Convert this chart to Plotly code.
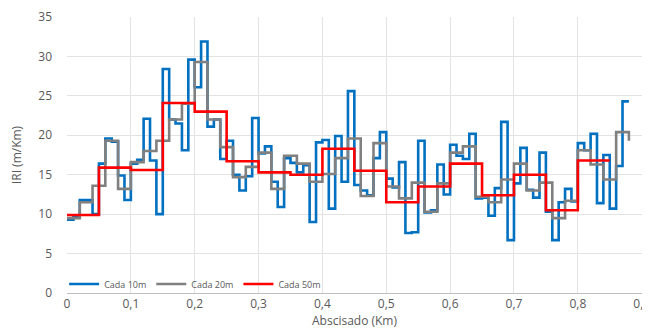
import plotly.graph_objects as go

# Abscissa (Km) at the start of each interval; last entry closes the final step
abs_10m = [round(i * 0.01, 2) for i in range(89)]
abs_20m = [round(i * 0.02, 2) for i in range(45)]
abs_50m = [round(i * 0.05, 2) for i in range(18)]

iri_10m = [9.3, 9.7, 11.8, 11.8, 10.0, 16.4, 19.6, 19.2, 14.9, 11.8,
           16.4, 16.9, 22.1, 16.8, 10.0, 28.4, 22.0, 21.5, 18.1, 29.6,
           26.1, 31.9, 21.1, 22.0, 17.0, 19.3, 15.0, 13.0, 14.8, 22.2,
           17.7, 18.6, 14.1, 10.9, 17.1, 16.5, 15.3, 16.2, 9.0, 19.1,
           19.4, 10.7, 19.9, 14.1, 25.6, 13.7, 13.0, 12.4, 17.1, 20.4,
           14.5, 13.4, 16.6, 7.6, 7.7, 19.3, 10.2, 10.5, 16.3, 12.5,
           18.8, 17.4, 17.0, 20.2, 12.0, 12.1, 9.8, 13.3, 21.7, 6.7,
           13.9, 18.4, 13.1, 12.1, 17.8, 10.3, 6.7, 11.5, 13.2, 11.6,
           19.0, 18.1, 20.2, 11.4, 17.5, 10.7, 16.1, 24.3, 24.3]

iri_20m = [9.5, 11.5, 13.6, 19.3, 13.2, 16.6, 18.0, 19.3, 22.0, 24.0,
           29.3, 22.0, 18.5, 14.7, 16.0, 17.8, 13.2, 17.4, 16.4, 14.1,
           15.1, 17.1, 19.6, 12.3, 19.0, 13.5, 12.0, 14.0, 10.3, 13.9,
           17.8, 18.6, 12.2, 11.5, 14.4, 16.4, 13.0, 14.0, 9.5, 11.7,
           18.1, 16.3, 14.4, 20.4, 19.3]

iri_50m = [9.9, 15.9, 15.6, 24.1, 23.0, 16.7, 15.3, 15.0, 18.3, 15.5,
           11.5, 13.5, 16.4, 12.4, 15.0, 10.5, 16.8, 16.8]

series = [
    ("Cada 10m", abs_10m, iri_10m, "#0070C0"),
    ("Cada 20m", abs_20m, iri_20m, "#808080"),
    ("Cada 50m", abs_50m, iri_50m, "#FF0000"),
]

fig = go.Figure()
for name, xs, ys, color in series:
    fig.add_trace(go.Scatter(
        x=xs, y=ys, name=name, mode="lines",
        line=dict(color=color, width=2.6, shape="hv"),
    ))

tick_font = dict(family="Open Sans, Liberation Sans, sans-serif", size=12, color="#595959")

# The page body has an 8px margin, so the figure is sized to fit the window from (8, 8)
fig.update_layout(
    width=642, height=324,
    margin=dict(l=59, r=8, t=9, b=39),
    paper_bgcolor="white", plot_bgcolor="white",
    separators=",.",
    showlegend=True,
    legend=dict(
        orientation="h", x=-0.005, y=-0.02, xanchor="left", yanchor="bottom",
        bgcolor="rgba(0,0,0,0)",
        font=dict(family="Open Sans, sans-serif", size=9, color="#595959"),
        itemwidth=30,
    ),
    xaxis=dict(
        range=[0, 0.9005], dtick=0.1, tick0=0, automargin=False,
        ticklabeloverflow="allow",
        showgrid=True, gridcolor="#e3e3e3", gridwidth=1,
        showline=True, linecolor="#bfbfbf", linewidth=1,
        zeroline=False, ticks="", tickfont=tick_font,
        title=dict(text="Abscisado (Km)", standoff=4,
                   font=dict(family="Open Sans, sans-serif", size=12, color="#595959")),
    ),
    yaxis=dict(
        range=[0, 35], dtick=5, tick0=0, automargin=False,
        showgrid=True, gridcolor="#e3e3e3", gridwidth=1,
        showline=False, zeroline=False, ticks="", tickfont=tick_font,
        ticklabelstandoff=14,
        title=dict(text="IRI (m/Km)", standoff=18,
                   font=dict(family="Open Sans, sans-serif", size=12, color="#595959")),
    ),
)

fig.write_html("out.html")
